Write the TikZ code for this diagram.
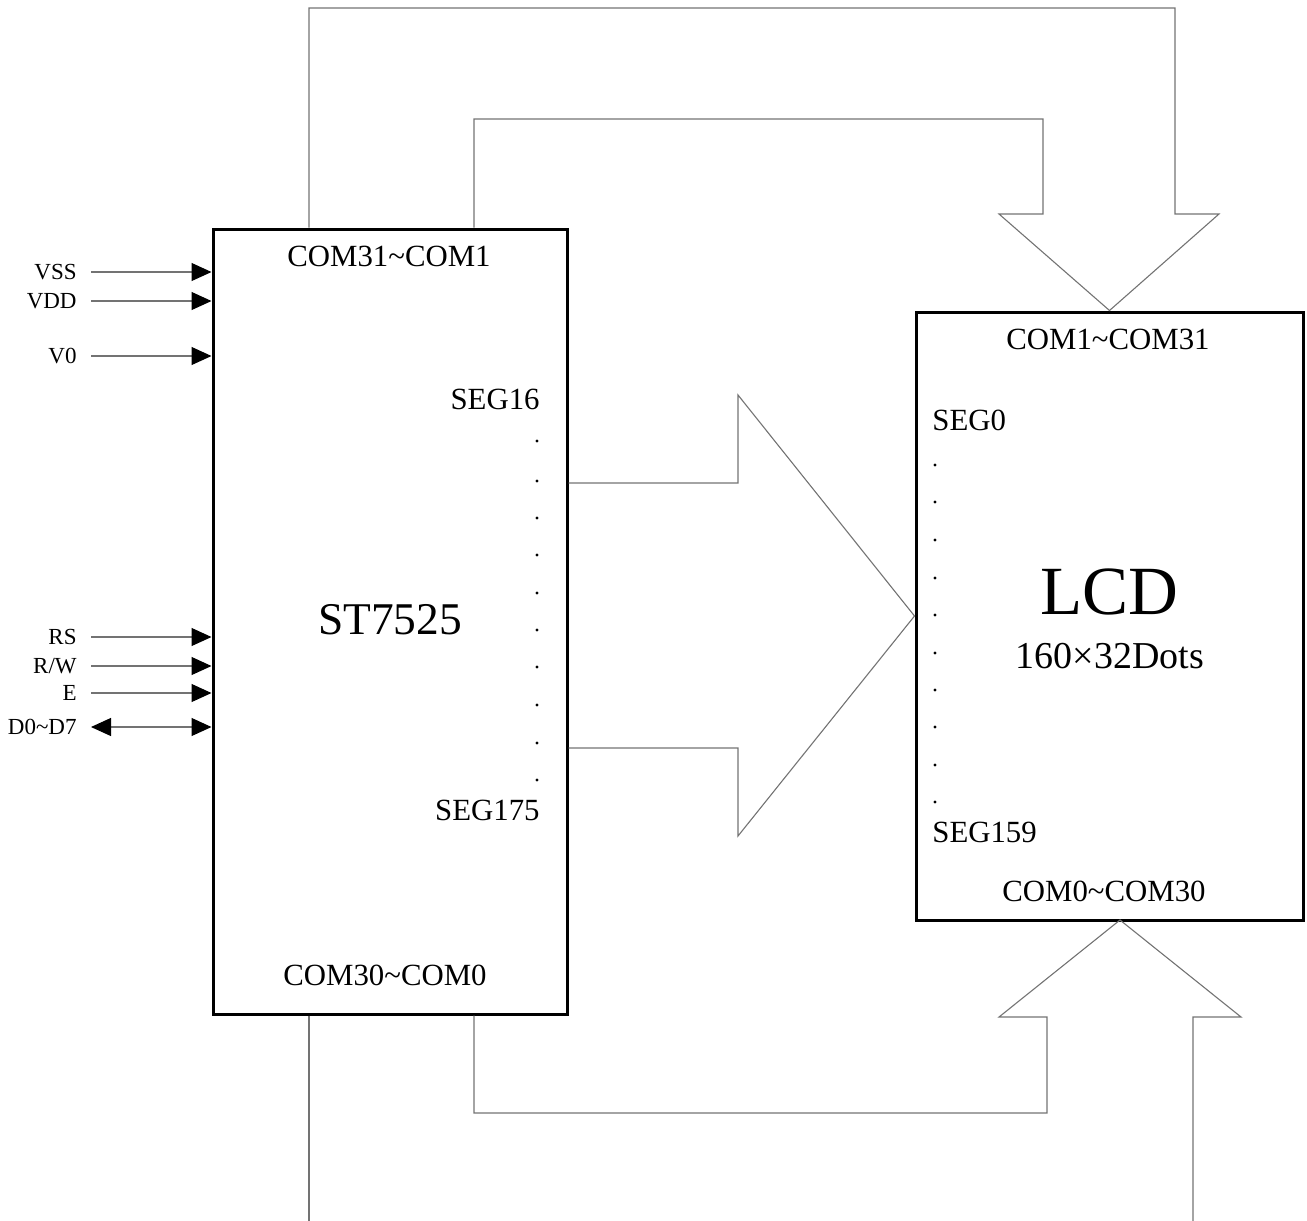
\documentclass[tikz,border=0pt]{standalone}
\usepackage{fontspec}
\setmainfont{Liberation Serif}
\usetikzlibrary{arrows.meta}
\begin{document}
\begin{tikzpicture}[x=0.5pt,y=-0.5pt,
  chip/.style={draw=black,line width=1.5pt,inner sep=0pt},
  wire/.style={draw=black!55,line width=0.55pt},
  sig/.style={wire,-{Triangle[length=10pt,width=9pt,color=black]}},
  bisig/.style={wire,{Triangle[length=10pt,width=9pt,color=black]}-{Triangle[length=10pt,width=9pt,color=black]}},
  lbl/.style={font=\fontsize{15.4}{18}\selectfont,inner sep=0pt},
  slbl/.style={font=\fontsize{11.5}{13}\selectfont,inner sep=0pt,anchor=east},
  dot/.style={fill=black}]
\useasboundingbox (0,0) rectangle (1307,1221);
% chips
\node[chip,minimum width=177pt,minimum height=392.5pt] (st) at (390,621.5) {};
\node[chip,minimum width=193.5pt,minimum height=304pt] (lcd) at (1109.5,616) {};
% ST7525 texts
\node[lbl] (stc1) at (389,256) {COM31\textasciitilde COM1};
\node[lbl] (stc2) at (385,975) {COM30\textasciitilde COM0};
\node[lbl,anchor=east] (sts1) at (540,399) {SEG16};
\node[lbl,anchor=east] (sts2) at (540,810) {SEG175};
\node[font=\fontsize{22.7}{26}\selectfont,inner sep=0pt] (stn) at (390,620) {ST7525};
\foreach \y in {441,481,518,555,593,630,667,705,743,780}
  \fill[dot] (537,\y) circle (0.8pt);
% LCD texts
\node[lbl] (lc1) at (1108,339) {COM1\textasciitilde COM31};
\node[lbl] (lc2) at (1104,891) {COM0\textasciitilde COM30};
\node[lbl,anchor=west] (ls1) at (932,420) {SEG0};
\node[lbl,anchor=west] (ls2) at (932,832) {SEG159};
\node[font=\fontsize{34.5}{40}\selectfont,inner sep=0pt] (ln) at (1109,592) {LCD};
\node[font=\fontsize{19}{22}\selectfont,inner sep=0pt] (ld) at (1110,656) {160×32Dots};
\foreach \y in {465,502,540,578,615,653,690,727,765,802}
  \fill[dot] (935,\y) circle (0.8pt);
% inputs
\foreach \n/\t/\y in {vss/VSS/272,vdd/VDD/301,vz/V0/356,rs/RS/637,rw/R\slash W/666,e/E/693}{
  \node[slbl] (\n) at (77,\y) {\t};
  \coordinate (\n s) at (91,\y);
  \draw[sig] (\n s) -- (\n s -| st.west);
}
\node[slbl] (dd) at (77,727) {D0\textasciitilde D7};
\coordinate (dds) at (91,727);
\draw[bisig] (dds) -- (dds -| st.west);
% top bus
\coordinate (t1) at (309,8);
\coordinate (t2) at (474,119);
\draw[wire] (st.north -| t1) -- (t1) -- (1175,8) -- (1175,214) -- (1219,214) -- (lcd.north)
  -- (999,214) -- (1043,214) -- (1043,119) -- (t2) -- (st.north -| t2);
% bottom bus
\coordinate (b1) at (309,1221);
\coordinate (b2) at (474,1113);
\coordinate (b3) at (1193,1221);
\coordinate (bap) at (1120,920);
\draw[wire] (st.south -| b1) -- (b1);
\draw[wire] (b3) -- (1193,1017) -- (1241,1017) -- (bap) -- (999,1017) -- (1047,1017)
  -- (1047,1113) -- (b2) -- (st.south -| b2);
% segment bus
\coordinate (m1) at (567,483);
\coordinate (m2) at (567,748);
\draw[wire] (m1 -| st.east) -- (738,483) -- (738,395) -- (lcd.west) -- (738,836) -- (738,748) -- (m2 -| st.east);
\end{tikzpicture}
\end{document}
